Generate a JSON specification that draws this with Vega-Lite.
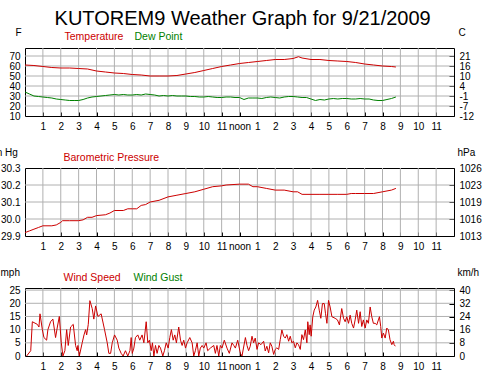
{
  "$schema": "https://vega.github.io/schema/vega-lite/v6.json",
  "autosize": {"type": "none"},
  "padding": {"left": 25, "top": 48, "right": 459, "bottom": 331},
  "bounds": "flush",
  "spacing": 52,
  "title": {"text": "KUTOREM9 Weather Graph for 9/21/2009", "font": "Liberation Sans", "fontSize": 20, "fontWeight": "normal", "color": "black", "anchor": "middle", "dx": 5, "dy": 6},
  "config": {
    "font": "Liberation Sans",
    "view": {"stroke": "black", "strokeWidth": 1},
    "axis": {"labelFont": "Liberation Sans", "labelFontSize": 10, "labelColor": "black", "labelOverlap": false, "grid": false, "domain": false, "tickColor": "black", "titleFont": "Liberation Sans", "titleFontSize": 10, "titleFontWeight": "normal", "titleColor": "black"},
    "legend": {"labelFont": "Liberation Sans", "labelFontSize": 10.5, "padding": 0, "offset": 0}
  },
  "resolve": {"scale": {"color": "independent", "x": "independent", "y": "independent"}, "legend": {"color": "independent"}},
  "datasets": {
    "hours": [{"g": 1}, {"g": 2}, {"g": 3}, {"g": 4}, {"g": 5}, {"g": 6}, {"g": 7}, {"g": 8}, {"g": 9}, {"g": 10}, {"g": 11}, {"g": 12}, {"g": 13}, {"g": 14}, {"g": 15}, {"g": 16}, {"g": 17}, {"g": 18}, {"g": 19}, {"g": 20}, {"g": 21}, {"g": 22}, {"g": 23}],
    "tgrid": [{"g": 20}, {"g": 30}, {"g": 40}, {"g": 50}, {"g": 60}, {"g": 70}],
    "pgrid": [{"g": 30.0}, {"g": 30.1}, {"g": 30.2}],
    "wgrid": [{"g": 5}, {"g": 10}, {"g": 15}, {"g": 20}, {"g": 25}],
    "tp": [
      {"h": 0, "s": "Temperature", "v": 61}, {"h": 0.5, "s": "Temperature", "v": 60.5}, {"h": 1, "s": "Temperature", "v": 59.5}, {"h": 1.5, "s": "Temperature", "v": 58.5}, {"h": 2, "s": "Temperature", "v": 58}, {"h": 2.5, "s": "Temperature", "v": 58}, {"h": 3, "s": "Temperature", "v": 57.5}, {"h": 3.5, "s": "Temperature", "v": 57}, {"h": 4, "s": "Temperature", "v": 55}, {"h": 4.5, "s": "Temperature", "v": 54}, {"h": 5, "s": "Temperature", "v": 53}, {"h": 5.5, "s": "Temperature", "v": 52.5}, {"h": 6, "s": "Temperature", "v": 51.5}, {"h": 6.5, "s": "Temperature", "v": 51}, {"h": 7, "s": "Temperature", "v": 50}, {"h": 7.5, "s": "Temperature", "v": 50}, {"h": 8, "s": "Temperature", "v": 50}, {"h": 8.5, "s": "Temperature", "v": 50.5}, {"h": 9, "s": "Temperature", "v": 52}, {"h": 9.5, "s": "Temperature", "v": 53.5}, {"h": 10, "s": "Temperature", "v": 55.5}, {"h": 10.5, "s": "Temperature", "v": 57.5}, {"h": 11, "s": "Temperature", "v": 59.5}, {"h": 11.5, "s": "Temperature", "v": 61}, {"h": 12, "s": "Temperature", "v": 62.5}, {"h": 12.5, "s": "Temperature", "v": 63.5}, {"h": 13, "s": "Temperature", "v": 64.5}, {"h": 13.5, "s": "Temperature", "v": 65.5}, {"h": 14, "s": "Temperature", "v": 66.5}, {"h": 14.5, "s": "Temperature", "v": 66.5}, {"h": 15, "s": "Temperature", "v": 67.5}, {"h": 15.3, "s": "Temperature", "v": 69.3}, {"h": 15.5, "s": "Temperature", "v": 68}, {"h": 16, "s": "Temperature", "v": 66.5}, {"h": 16.5, "s": "Temperature", "v": 66.5}, {"h": 17, "s": "Temperature", "v": 65.5}, {"h": 17.5, "s": "Temperature", "v": 65}, {"h": 18, "s": "Temperature", "v": 64.5}, {"h": 18.5, "s": "Temperature", "v": 63.5}, {"h": 19, "s": "Temperature", "v": 62}, {"h": 19.5, "s": "Temperature", "v": 61}, {"h": 20, "s": "Temperature", "v": 60}, {"h": 20.5, "s": "Temperature", "v": 59.5}, {"h": 20.75, "s": "Temperature", "v": 59},
      {"h": 0, "s": "Dew Point", "v": 34}, {"h": 0.25, "s": "Dew Point", "v": 32}, {"h": 0.5, "s": "Dew Point", "v": 30}, {"h": 0.75, "s": "Dew Point", "v": 29.5}, {"h": 1, "s": "Dew Point", "v": 29}, {"h": 1.25, "s": "Dew Point", "v": 28.5}, {"h": 1.5, "s": "Dew Point", "v": 28}, {"h": 1.75, "s": "Dew Point", "v": 27}, {"h": 2, "s": "Dew Point", "v": 26.5}, {"h": 2.25, "s": "Dew Point", "v": 26}, {"h": 2.5, "s": "Dew Point", "v": 25.5}, {"h": 2.75, "s": "Dew Point", "v": 25.5}, {"h": 3, "s": "Dew Point", "v": 25.5}, {"h": 3.25, "s": "Dew Point", "v": 26.5}, {"h": 3.5, "s": "Dew Point", "v": 28}, {"h": 3.75, "s": "Dew Point", "v": 29}, {"h": 4, "s": "Dew Point", "v": 29.5}, {"h": 4.25, "s": "Dew Point", "v": 30}, {"h": 4.5, "s": "Dew Point", "v": 30.5}, {"h": 4.75, "s": "Dew Point", "v": 31}, {"h": 5, "s": "Dew Point", "v": 31.5}, {"h": 5.25, "s": "Dew Point", "v": 31}, {"h": 5.5, "s": "Dew Point", "v": 31.5}, {"h": 5.75, "s": "Dew Point", "v": 31}, {"h": 6, "s": "Dew Point", "v": 31}, {"h": 6.25, "s": "Dew Point", "v": 31.5}, {"h": 6.5, "s": "Dew Point", "v": 31}, {"h": 6.75, "s": "Dew Point", "v": 32}, {"h": 7, "s": "Dew Point", "v": 31.5}, {"h": 7.25, "s": "Dew Point", "v": 31}, {"h": 7.5, "s": "Dew Point", "v": 30}, {"h": 7.75, "s": "Dew Point", "v": 30.5}, {"h": 8, "s": "Dew Point", "v": 30}, {"h": 8.25, "s": "Dew Point", "v": 30.5}, {"h": 8.5, "s": "Dew Point", "v": 30}, {"h": 8.75, "s": "Dew Point", "v": 30}, {"h": 9, "s": "Dew Point", "v": 30}, {"h": 9.25, "s": "Dew Point", "v": 29.5}, {"h": 9.5, "s": "Dew Point", "v": 29.5}, {"h": 9.75, "s": "Dew Point", "v": 29}, {"h": 10, "s": "Dew Point", "v": 29}, {"h": 10.25, "s": "Dew Point", "v": 29.5}, {"h": 10.5, "s": "Dew Point", "v": 29}, {"h": 10.75, "s": "Dew Point", "v": 28.5}, {"h": 11, "s": "Dew Point", "v": 28.5}, {"h": 11.25, "s": "Dew Point", "v": 29}, {"h": 11.5, "s": "Dew Point", "v": 29}, {"h": 11.75, "s": "Dew Point", "v": 28.5}, {"h": 12, "s": "Dew Point", "v": 28.5}, {"h": 12.25, "s": "Dew Point", "v": 26.5}, {"h": 12.5, "s": "Dew Point", "v": 28}, {"h": 12.75, "s": "Dew Point", "v": 28}, {"h": 13, "s": "Dew Point", "v": 28}, {"h": 13.25, "s": "Dew Point", "v": 27.5}, {"h": 13.5, "s": "Dew Point", "v": 28.5}, {"h": 13.75, "s": "Dew Point", "v": 29}, {"h": 14, "s": "Dew Point", "v": 28.5}, {"h": 14.25, "s": "Dew Point", "v": 28}, {"h": 14.5, "s": "Dew Point", "v": 29}, {"h": 14.75, "s": "Dew Point", "v": 29.5}, {"h": 15, "s": "Dew Point", "v": 29.5}, {"h": 15.25, "s": "Dew Point", "v": 29}, {"h": 15.5, "s": "Dew Point", "v": 28.5}, {"h": 15.75, "s": "Dew Point", "v": 28.5}, {"h": 16, "s": "Dew Point", "v": 27}, {"h": 16.25, "s": "Dew Point", "v": 25.5}, {"h": 16.5, "s": "Dew Point", "v": 26.5}, {"h": 16.75, "s": "Dew Point", "v": 26}, {"h": 17, "s": "Dew Point", "v": 27}, {"h": 17.25, "s": "Dew Point", "v": 27.5}, {"h": 17.5, "s": "Dew Point", "v": 27}, {"h": 17.75, "s": "Dew Point", "v": 27.5}, {"h": 18, "s": "Dew Point", "v": 27.5}, {"h": 18.25, "s": "Dew Point", "v": 27}, {"h": 18.5, "s": "Dew Point", "v": 27}, {"h": 18.75, "s": "Dew Point", "v": 27.5}, {"h": 19, "s": "Dew Point", "v": 27}, {"h": 19.25, "s": "Dew Point", "v": 27}, {"h": 19.5, "s": "Dew Point", "v": 26}, {"h": 19.75, "s": "Dew Point", "v": 25.5}, {"h": 20, "s": "Dew Point", "v": 25.5}, {"h": 20.25, "s": "Dew Point", "v": 26.5}, {"h": 20.5, "s": "Dew Point", "v": 27.5}, {"h": 20.75, "s": "Dew Point", "v": 29}
    ],
    "pr": [
      {"h": 0, "s": "Barometric Pressure", "v": 29.92}, {"h": 0.25, "s": "Barometric Pressure", "v": 29.93}, {"h": 0.5, "s": "Barometric Pressure", "v": 29.94}, {"h": 0.75, "s": "Barometric Pressure", "v": 29.95}, {"h": 1, "s": "Barometric Pressure", "v": 29.96}, {"h": 1.5, "s": "Barometric Pressure", "v": 29.96}, {"h": 1.75, "s": "Barometric Pressure", "v": 29.965}, {"h": 2, "s": "Barometric Pressure", "v": 29.98}, {"h": 2.1, "s": "Barometric Pressure", "v": 29.99}, {"h": 2.5, "s": "Barometric Pressure", "v": 29.99}, {"h": 3, "s": "Barometric Pressure", "v": 29.99}, {"h": 3.25, "s": "Barometric Pressure", "v": 29.995}, {"h": 3.5, "s": "Barometric Pressure", "v": 30.01}, {"h": 3.75, "s": "Barometric Pressure", "v": 30.01}, {"h": 4, "s": "Barometric Pressure", "v": 30.02}, {"h": 4.5, "s": "Barometric Pressure", "v": 30.025}, {"h": 4.75, "s": "Barometric Pressure", "v": 30.035}, {"h": 5, "s": "Barometric Pressure", "v": 30.05}, {"h": 5.5, "s": "Barometric Pressure", "v": 30.05}, {"h": 5.75, "s": "Barometric Pressure", "v": 30.06}, {"h": 6, "s": "Barometric Pressure", "v": 30.06}, {"h": 6.25, "s": "Barometric Pressure", "v": 30.06}, {"h": 6.5, "s": "Barometric Pressure", "v": 30.08}, {"h": 6.75, "s": "Barometric Pressure", "v": 30.085}, {"h": 7, "s": "Barometric Pressure", "v": 30.1}, {"h": 7.5, "s": "Barometric Pressure", "v": 30.11}, {"h": 8, "s": "Barometric Pressure", "v": 30.13}, {"h": 8.5, "s": "Barometric Pressure", "v": 30.14}, {"h": 9, "s": "Barometric Pressure", "v": 30.15}, {"h": 9.5, "s": "Barometric Pressure", "v": 30.16}, {"h": 10, "s": "Barometric Pressure", "v": 30.175}, {"h": 10.5, "s": "Barometric Pressure", "v": 30.19}, {"h": 11, "s": "Barometric Pressure", "v": 30.195}, {"h": 11.25, "s": "Barometric Pressure", "v": 30.2}, {"h": 12, "s": "Barometric Pressure", "v": 30.205}, {"h": 12.5, "s": "Barometric Pressure", "v": 30.205}, {"h": 12.75, "s": "Barometric Pressure", "v": 30.19}, {"h": 13, "s": "Barometric Pressure", "v": 30.19}, {"h": 13.5, "s": "Barometric Pressure", "v": 30.18}, {"h": 14, "s": "Barometric Pressure", "v": 30.17}, {"h": 14.5, "s": "Barometric Pressure", "v": 30.17}, {"h": 15, "s": "Barometric Pressure", "v": 30.16}, {"h": 15.25, "s": "Barometric Pressure", "v": 30.16}, {"h": 15.5, "s": "Barometric Pressure", "v": 30.145}, {"h": 16, "s": "Barometric Pressure", "v": 30.145}, {"h": 16.5, "s": "Barometric Pressure", "v": 30.145}, {"h": 17, "s": "Barometric Pressure", "v": 30.145}, {"h": 17.5, "s": "Barometric Pressure", "v": 30.145}, {"h": 18, "s": "Barometric Pressure", "v": 30.145}, {"h": 18.25, "s": "Barometric Pressure", "v": 30.15}, {"h": 18.5, "s": "Barometric Pressure", "v": 30.15}, {"h": 19, "s": "Barometric Pressure", "v": 30.15}, {"h": 19.5, "s": "Barometric Pressure", "v": 30.15}, {"h": 19.75, "s": "Barometric Pressure", "v": 30.155}, {"h": 20, "s": "Barometric Pressure", "v": 30.16}, {"h": 20.25, "s": "Barometric Pressure", "v": 30.165}, {"h": 20.5, "s": "Barometric Pressure", "v": 30.17}, {"h": 20.75, "s": "Barometric Pressure", "v": 30.18}
    ],
    "wd": [
      {"h": 0.09, "s": "Wind Speed", "v": 0}, {"h": 0.32, "s": "Wind Speed", "v": 2}, {"h": 0.41, "s": "Wind Speed", "v": 13}, {"h": 0.69, "s": "Wind Speed", "v": 12}, {"h": 0.78, "s": "Wind Speed", "v": 11}, {"h": 0.84, "s": "Wind Speed", "v": 16}, {"h": 0.97, "s": "Wind Speed", "v": 10}, {"h": 1.06, "s": "Wind Speed", "v": 7}, {"h": 1.21, "s": "Wind Speed", "v": 6}, {"h": 1.28, "s": "Wind Speed", "v": 10}, {"h": 1.43, "s": "Wind Speed", "v": 13}, {"h": 1.56, "s": "Wind Speed", "v": 14}, {"h": 1.71, "s": "Wind Speed", "v": 7}, {"h": 1.81, "s": "Wind Speed", "v": 11}, {"h": 1.92, "s": "Wind Speed", "v": 15}, {"h": 2.03, "s": "Wind Speed", "v": 5}, {"h": 2.12, "s": "Wind Speed", "v": 0}, {"h": 2.23, "s": "Wind Speed", "v": 2}, {"h": 2.33, "s": "Wind Speed", "v": 10}, {"h": 2.42, "s": "Wind Speed", "v": 4}, {"h": 2.55, "s": "Wind Speed", "v": 11}, {"h": 2.7, "s": "Wind Speed", "v": 12}, {"h": 2.83, "s": "Wind Speed", "v": 4}, {"h": 2.92, "s": "Wind Speed", "v": 2}, {"h": 2.96, "s": "Wind Speed", "v": 4}, {"h": 3.04, "s": "Wind Speed", "v": 0}, {"h": 3.2, "s": "Wind Speed", "v": 5}, {"h": 3.3, "s": "Wind Speed", "v": 8}, {"h": 3.39, "s": "Wind Speed", "v": 10}, {"h": 3.45, "s": "Wind Speed", "v": 8}, {"h": 3.54, "s": "Wind Speed", "v": 12}, {"h": 3.63, "s": "Wind Speed", "v": 21}, {"h": 3.76, "s": "Wind Speed", "v": 18}, {"h": 3.85, "s": "Wind Speed", "v": 14}, {"h": 3.95, "s": "Wind Speed", "v": 19}, {"h": 4.08, "s": "Wind Speed", "v": 15}, {"h": 4.26, "s": "Wind Speed", "v": 16}, {"h": 4.45, "s": "Wind Speed", "v": 10}, {"h": 4.6, "s": "Wind Speed", "v": 5}, {"h": 4.69, "s": "Wind Speed", "v": 1}, {"h": 4.79, "s": "Wind Speed", "v": 1}, {"h": 4.88, "s": "Wind Speed", "v": 5}, {"h": 5.01, "s": "Wind Speed", "v": 8}, {"h": 5.16, "s": "Wind Speed", "v": 6}, {"h": 5.25, "s": "Wind Speed", "v": 3}, {"h": 5.38, "s": "Wind Speed", "v": 1}, {"h": 5.49, "s": "Wind Speed", "v": 0}, {"h": 5.62, "s": "Wind Speed", "v": 2}, {"h": 5.75, "s": "Wind Speed", "v": 0}, {"h": 5.87, "s": "Wind Speed", "v": 2}, {"h": 5.94, "s": "Wind Speed", "v": 7}, {"h": 6.0, "s": "Wind Speed", "v": 1}, {"h": 6.09, "s": "Wind Speed", "v": 3}, {"h": 6.18, "s": "Wind Speed", "v": 7}, {"h": 6.31, "s": "Wind Speed", "v": 8}, {"h": 6.42, "s": "Wind Speed", "v": 6}, {"h": 6.55, "s": "Wind Speed", "v": 8}, {"h": 6.65, "s": "Wind Speed", "v": 5}, {"h": 6.78, "s": "Wind Speed", "v": 13}, {"h": 6.87, "s": "Wind Speed", "v": 5}, {"h": 6.96, "s": "Wind Speed", "v": 6}, {"h": 7.06, "s": "Wind Speed", "v": 2}, {"h": 7.13, "s": "Wind Speed", "v": 5}, {"h": 7.21, "s": "Wind Speed", "v": 0}, {"h": 7.3, "s": "Wind Speed", "v": 4}, {"h": 7.39, "s": "Wind Speed", "v": 1}, {"h": 7.49, "s": "Wind Speed", "v": 4}, {"h": 7.58, "s": "Wind Speed", "v": 3}, {"h": 7.71, "s": "Wind Speed", "v": 0}, {"h": 7.8, "s": "Wind Speed", "v": 2}, {"h": 7.9, "s": "Wind Speed", "v": 5}, {"h": 8.01, "s": "Wind Speed", "v": 3}, {"h": 8.1, "s": "Wind Speed", "v": 7}, {"h": 8.19, "s": "Wind Speed", "v": 10}, {"h": 8.29, "s": "Wind Speed", "v": 6}, {"h": 8.38, "s": "Wind Speed", "v": 8}, {"h": 8.47, "s": "Wind Speed", "v": 5}, {"h": 8.6, "s": "Wind Speed", "v": 11}, {"h": 8.7, "s": "Wind Speed", "v": 6}, {"h": 8.79, "s": "Wind Speed", "v": 4}, {"h": 8.88, "s": "Wind Speed", "v": 6}, {"h": 8.98, "s": "Wind Speed", "v": 3}, {"h": 9.07, "s": "Wind Speed", "v": 5}, {"h": 9.22, "s": "Wind Speed", "v": 7}, {"h": 9.35, "s": "Wind Speed", "v": 5}, {"h": 9.44, "s": "Wind Speed", "v": 0}, {"h": 9.53, "s": "Wind Speed", "v": 2}, {"h": 9.63, "s": "Wind Speed", "v": 5}, {"h": 9.72, "s": "Wind Speed", "v": 0}, {"h": 9.81, "s": "Wind Speed", "v": 3}, {"h": 9.91, "s": "Wind Speed", "v": 4}, {"h": 10.0, "s": "Wind Speed", "v": 3}, {"h": 10.13, "s": "Wind Speed", "v": 5}, {"h": 10.22, "s": "Wind Speed", "v": 2}, {"h": 10.37, "s": "Wind Speed", "v": 3}, {"h": 10.56, "s": "Wind Speed", "v": 4}, {"h": 10.65, "s": "Wind Speed", "v": 1}, {"h": 10.74, "s": "Wind Speed", "v": 4}, {"h": 10.84, "s": "Wind Speed", "v": 0}, {"h": 10.93, "s": "Wind Speed", "v": 4}, {"h": 11.02, "s": "Wind Speed", "v": 3}, {"h": 11.15, "s": "Wind Speed", "v": 6}, {"h": 11.3, "s": "Wind Speed", "v": 3}, {"h": 11.43, "s": "Wind Speed", "v": 1}, {"h": 11.58, "s": "Wind Speed", "v": 5}, {"h": 11.68, "s": "Wind Speed", "v": 4}, {"h": 11.77, "s": "Wind Speed", "v": 3}, {"h": 11.9, "s": "Wind Speed", "v": 6}, {"h": 12.05, "s": "Wind Speed", "v": 1}, {"h": 12.14, "s": "Wind Speed", "v": 0}, {"h": 12.33, "s": "Wind Speed", "v": 7}, {"h": 12.42, "s": "Wind Speed", "v": 4}, {"h": 12.51, "s": "Wind Speed", "v": 2}, {"h": 12.6, "s": "Wind Speed", "v": 3.7}, {"h": 12.7, "s": "Wind Speed", "v": 7.5}, {"h": 12.79, "s": "Wind Speed", "v": 5}, {"h": 12.88, "s": "Wind Speed", "v": 6.8}, {"h": 12.98, "s": "Wind Speed", "v": 2.5}, {"h": 13.07, "s": "Wind Speed", "v": 5}, {"h": 13.2, "s": "Wind Speed", "v": 4.3}, {"h": 13.35, "s": "Wind Speed", "v": 5.6}, {"h": 13.44, "s": "Wind Speed", "v": 1.9}, {"h": 13.53, "s": "Wind Speed", "v": 3.7}, {"h": 13.63, "s": "Wind Speed", "v": 1.2}, {"h": 13.72, "s": "Wind Speed", "v": 5}, {"h": 13.81, "s": "Wind Speed", "v": 3.7}, {"h": 13.91, "s": "Wind Speed", "v": 0.6}, {"h": 14.0, "s": "Wind Speed", "v": 2.5}, {"h": 14.09, "s": "Wind Speed", "v": 3.1}, {"h": 14.19, "s": "Wind Speed", "v": 2.5}, {"h": 14.28, "s": "Wind Speed", "v": 6.2}, {"h": 14.37, "s": "Wind Speed", "v": 9.9}, {"h": 14.47, "s": "Wind Speed", "v": 7.5}, {"h": 14.56, "s": "Wind Speed", "v": 6.8}, {"h": 14.65, "s": "Wind Speed", "v": 8.1}, {"h": 14.75, "s": "Wind Speed", "v": 5.6}, {"h": 14.84, "s": "Wind Speed", "v": 7.5}, {"h": 14.93, "s": "Wind Speed", "v": 5}, {"h": 15.02, "s": "Wind Speed", "v": 5.6}, {"h": 15.12, "s": "Wind Speed", "v": 3.1}, {"h": 15.21, "s": "Wind Speed", "v": 5}, {"h": 15.3, "s": "Wind Speed", "v": 4.3}, {"h": 15.4, "s": "Wind Speed", "v": 2.5}, {"h": 15.49, "s": "Wind Speed", "v": 8.1}, {"h": 15.58, "s": "Wind Speed", "v": 6.2}, {"h": 15.68, "s": "Wind Speed", "v": 9.9}, {"h": 15.77, "s": "Wind Speed", "v": 5}, {"h": 15.82, "s": "Wind Speed", "v": 13}, {"h": 15.9, "s": "Wind Speed", "v": 8.1}, {"h": 15.95, "s": "Wind Speed", "v": 11.8}, {"h": 16.01, "s": "Wind Speed", "v": 7.5}, {"h": 16.1, "s": "Wind Speed", "v": 14.9}, {"h": 16.18, "s": "Wind Speed", "v": 17.4}, {"h": 16.27, "s": "Wind Speed", "v": 18.6}, {"h": 16.37, "s": "Wind Speed", "v": 21.1}, {"h": 16.46, "s": "Wind Speed", "v": 17.4}, {"h": 16.55, "s": "Wind Speed", "v": 14.3}, {"h": 16.64, "s": "Wind Speed", "v": 19.9}, {"h": 16.74, "s": "Wind Speed", "v": 19.9}, {"h": 16.81, "s": "Wind Speed", "v": 16.2}, {"h": 16.89, "s": "Wind Speed", "v": 12.4}, {"h": 16.98, "s": "Wind Speed", "v": 21.1}, {"h": 17.07, "s": "Wind Speed", "v": 18.6}, {"h": 17.17, "s": "Wind Speed", "v": 14.9}, {"h": 17.35, "s": "Wind Speed", "v": 14.3}, {"h": 17.48, "s": "Wind Speed", "v": 13.7}, {"h": 17.59, "s": "Wind Speed", "v": 11.8}, {"h": 17.72, "s": "Wind Speed", "v": 18}, {"h": 17.82, "s": "Wind Speed", "v": 14.3}, {"h": 17.91, "s": "Wind Speed", "v": 13}, {"h": 18.0, "s": "Wind Speed", "v": 14.9}, {"h": 18.1, "s": "Wind Speed", "v": 12.4}, {"h": 18.19, "s": "Wind Speed", "v": 15.5}, {"h": 18.28, "s": "Wind Speed", "v": 12.4}, {"h": 18.38, "s": "Wind Speed", "v": 10.6}, {"h": 18.47, "s": "Wind Speed", "v": 13.7}, {"h": 18.56, "s": "Wind Speed", "v": 17.4}, {"h": 18.66, "s": "Wind Speed", "v": 12.4}, {"h": 18.75, "s": "Wind Speed", "v": 16.8}, {"h": 18.84, "s": "Wind Speed", "v": 11.2}, {"h": 18.93, "s": "Wind Speed", "v": 13.7}, {"h": 19.03, "s": "Wind Speed", "v": 10.6}, {"h": 19.12, "s": "Wind Speed", "v": 13.7}, {"h": 19.21, "s": "Wind Speed", "v": 12.4}, {"h": 19.31, "s": "Wind Speed", "v": 18.6}, {"h": 19.4, "s": "Wind Speed", "v": 14.9}, {"h": 19.49, "s": "Wind Speed", "v": 12.4}, {"h": 19.59, "s": "Wind Speed", "v": 12.4}, {"h": 19.68, "s": "Wind Speed", "v": 11.8}, {"h": 19.77, "s": "Wind Speed", "v": 13.7}, {"h": 19.83, "s": "Wind Speed", "v": 14.9}, {"h": 19.9, "s": "Wind Speed", "v": 11.2}, {"h": 19.96, "s": "Wind Speed", "v": 6.8}, {"h": 20.05, "s": "Wind Speed", "v": 8.7}, {"h": 20.15, "s": "Wind Speed", "v": 6.8}, {"h": 20.24, "s": "Wind Speed", "v": 10.6}, {"h": 20.33, "s": "Wind Speed", "v": 9.9}, {"h": 20.42, "s": "Wind Speed", "v": 6.2}, {"h": 20.52, "s": "Wind Speed", "v": 4.3}, {"h": 20.61, "s": "Wind Speed", "v": 5.6}, {"h": 20.65, "s": "Wind Speed", "v": 4.3}, {"h": 20.72, "s": "Wind Speed", "v": 3.7}
    ]
  },
  "vconcat": [
    {
      "width": 429, "height": 68,
      "resolve": {"axis": {"y": "independent"}},
      "layer": [
        {
          "data": {"name": "hours"},
          "mark": {"type": "rule", "stroke": "#b0b0b0", "strokeWidth": 1},
          "encoding": {
            "x": {"field": "g", "type": "quantitative", "scale": {"domain": [0, 24], "nice": false, "zero": false}, "axis": {"values": [1,2,3,4,5,6,7,8,9,10,11,12,13,14,15,16,17,18,19,20,21,22,23], "labelExpr": "datum.value == 12 ? 'noon' : '' + (datum.value > 12 ? datum.value - 12 : datum.value)", "title": null, "grid": false, "tickSize": -4, "labelPadding": 9, "labelFlush": false, "labelOverlap": false, "labelBound": false}},
            "y": {"datum": 10, "type": "quantitative", "scale": {"domain": [10, 78], "nice": false, "zero": false}, "axis": null},
            "y2": {"datum": 78}
          }
        },
        {
          "data": {"name": "tgrid"},
          "mark": {"type": "rule", "stroke": "#b0b0b0", "strokeWidth": 1},
          "encoding": {
            "x": {"datum": 0, "type": "quantitative", "axis": {"values": [1,2,3,4,5,6,7,8,9,10,11,12,13,14,15,16,17,18,19,20,21,22,23], "labelExpr": "datum.value == 12 ? 'noon' : '' + (datum.value > 12 ? datum.value - 12 : datum.value)", "title": null, "grid": false, "tickSize": -4, "labelPadding": 9, "labelFlush": false, "labelOverlap": false, "labelBound": false}},
            "x2": {"datum": 24},
            "y": {"field": "g", "type": "quantitative", "scale": {"domain": [10, 78], "nice": false, "zero": false}, "axis": null}
          }
        },
        {
          "data": {"name": "tp"},
          "mark": {"type": "line", "strokeWidth": 1, "clip": true},
          "encoding": {
            "x": {"field": "h", "type": "quantitative", "scale": {"domain": [0, 24], "nice": false, "zero": false}, "axis": {"values": [1,2,3,4,5,6,7,8,9,10,11,12,13,14,15,16,17,18,19,20,21,22,23], "labelExpr": "datum.value == 12 ? 'noon' : '' + (datum.value > 12 ? datum.value - 12 : datum.value)", "title": null, "grid": false, "tickSize": -4, "labelPadding": 9, "labelFlush": false, "labelOverlap": false, "labelBound": false}},
            "y": {"field": "v", "type": "quantitative", "scale": {"domain": [10, 78], "nice": false, "zero": false}, "axis": {"values": [10,20,30,40,50,60,70], "grid": false, "ticks": false, "labelPadding": 5, "labelOverlap": false, "title": "F", "titleAngle": 0, "titleAlign": "left", "titleBaseline": "middle", "titleX": -10, "titleY": -16}},
            "color": {"field": "s", "type": "nominal", "scale": {"domain": ["Temperature", "Dew Point"], "range": ["#cc0000", "#008000"]}, "legend": {"orient": "none", "legendX": 29, "legendY": -16, "direction": "horizontal", "title": null, "symbolSize": 0, "symbolStrokeWidth": 0, "symbolOpacity": 0, "labelOffset": 0, "columnPadding": 0, "labelColor": {"expr": "datum.value == 'Dew Point' ? '#008000' : '#cc0000'"}}}
          }
        },
        {
          "data": {"name": "tp"},
          "mark": {"type": "line", "opacity": 0},
          "encoding": {
            "x": {"field": "h", "type": "quantitative", "axis": {"values": [1,2,3,4,5,6,7,8,9,10,11,12,13,14,15,16,17,18,19,20,21,22,23], "labelExpr": "datum.value == 12 ? 'noon' : '' + (datum.value > 12 ? datum.value - 12 : datum.value)", "title": null, "grid": false, "tickSize": -4, "labelPadding": 9, "labelFlush": false, "labelOverlap": false, "labelBound": false}},
            "y": {"field": "v", "type": "quantitative", "axis": {"orient": "right", "values": [10,20,30,40,50,60,70], "labelExpr": "'' + round((datum.value - 32) * 5 / 9)", "grid": false, "tickSize": -5, "labelPadding": 10, "labelOverlap": false, "title": "C", "titleAngle": 0, "titleAlign": "left", "titleBaseline": "middle", "titleX": 4, "titleY": -16}},
            "detail": {"field": "s"}
          }
        }
      ]
    },
    {
      "width": 429, "height": 68,
      "resolve": {"axis": {"y": "independent"}},
      "layer": [
        {
          "data": {"name": "hours"},
          "mark": {"type": "rule", "stroke": "#b0b0b0", "strokeWidth": 1},
          "encoding": {
            "x": {"field": "g", "type": "quantitative", "scale": {"domain": [0, 24], "nice": false, "zero": false}, "axis": {"values": [1,2,3,4,5,6,7,8,9,10,11,12,13,14,15,16,17,18,19,20,21,22,23], "labelExpr": "datum.value == 12 ? 'noon' : '' + (datum.value > 12 ? datum.value - 12 : datum.value)", "title": null, "grid": false, "tickSize": -4, "labelPadding": 9, "labelFlush": false, "labelOverlap": false, "labelBound": false}},
            "y": {"datum": 29.9, "type": "quantitative", "scale": {"domain": [29.9, 30.3], "nice": false, "zero": false}, "axis": null},
            "y2": {"datum": 30.3}
          }
        },
        {
          "data": {"name": "pgrid"},
          "mark": {"type": "rule", "stroke": "#b0b0b0", "strokeWidth": 1},
          "encoding": {
            "x": {"datum": 0, "type": "quantitative", "axis": {"values": [1,2,3,4,5,6,7,8,9,10,11,12,13,14,15,16,17,18,19,20,21,22,23], "labelExpr": "datum.value == 12 ? 'noon' : '' + (datum.value > 12 ? datum.value - 12 : datum.value)", "title": null, "grid": false, "tickSize": -4, "labelPadding": 9, "labelFlush": false, "labelOverlap": false, "labelBound": false}},
            "x2": {"datum": 24},
            "y": {"field": "g", "type": "quantitative", "scale": {"domain": [29.9, 30.3], "nice": false, "zero": false}, "axis": null}
          }
        },
        {
          "data": {"name": "pr"},
          "mark": {"type": "line", "strokeWidth": 1, "clip": true},
          "encoding": {
            "x": {"field": "h", "type": "quantitative", "scale": {"domain": [0, 24], "nice": false, "zero": false}, "axis": {"values": [1,2,3,4,5,6,7,8,9,10,11,12,13,14,15,16,17,18,19,20,21,22,23], "labelExpr": "datum.value == 12 ? 'noon' : '' + (datum.value > 12 ? datum.value - 12 : datum.value)", "title": null, "grid": false, "tickSize": -4, "labelPadding": 9, "labelFlush": false, "labelOverlap": false, "labelBound": false}},
            "y": {"field": "v", "type": "quantitative", "scale": {"domain": [29.9, 30.3], "nice": false, "zero": false}, "axis": {"values": [29.9, 30.0, 30.1, 30.2, 30.3], "format": ".1f", "grid": false, "ticks": false, "labelPadding": 5, "labelOverlap": false, "title": "in Hg", "titleAngle": 0, "titleAlign": "left", "titleBaseline": "middle", "titleX": -31, "titleY": -16}},
            "color": {"field": "s", "type": "nominal", "scale": {"domain": ["Barometric Pressure"], "range": ["#cc0000"]}, "legend": {"orient": "none", "legendX": 28, "legendY": -15, "direction": "horizontal", "title": null, "symbolSize": 0, "symbolStrokeWidth": 0, "symbolOpacity": 0, "labelOffset": 0, "labelColor": "#cc0000"}}
          }
        },
        {
          "data": {"name": "pr"},
          "mark": {"type": "line", "opacity": 0},
          "encoding": {
            "x": {"field": "h", "type": "quantitative", "axis": {"values": [1,2,3,4,5,6,7,8,9,10,11,12,13,14,15,16,17,18,19,20,21,22,23], "labelExpr": "datum.value == 12 ? 'noon' : '' + (datum.value > 12 ? datum.value - 12 : datum.value)", "title": null, "grid": false, "tickSize": -4, "labelPadding": 9, "labelFlush": false, "labelOverlap": false, "labelBound": false}},
            "y": {"field": "v", "type": "quantitative", "axis": {"orient": "right", "values": [29.9, 30.0, 30.1, 30.2, 30.3], "labelExpr": "'' + round(datum.value * 33.8639)", "grid": false, "tickSize": -5, "labelPadding": 10, "labelOverlap": false, "title": "hPa", "titleAngle": 0, "titleAlign": "left", "titleBaseline": "middle", "titleX": 3, "titleY": -16}}
          }
        }
      ]
    },
    {
      "width": 429, "height": 68,
      "resolve": {"axis": {"y": "independent"}},
      "layer": [
        {
          "data": {"name": "hours"},
          "mark": {"type": "rule", "stroke": "#b0b0b0", "strokeWidth": 1},
          "encoding": {
            "x": {"field": "g", "type": "quantitative", "scale": {"domain": [0, 24], "nice": false, "zero": false}, "axis": {"values": [1,2,3,4,5,6,7,8,9,10,11,12,13,14,15,16,17,18,19,20,21,22,23], "labelExpr": "datum.value == 12 ? 'noon' : '' + (datum.value > 12 ? datum.value - 12 : datum.value)", "title": null, "grid": false, "tickSize": -4, "labelPadding": 9, "labelFlush": false, "labelOverlap": false, "labelBound": false}},
            "y": {"datum": 0, "type": "quantitative", "scale": {"domain": [0, 25.8], "nice": false, "zero": false}, "axis": null},
            "y2": {"datum": 25.8}
          }
        },
        {
          "data": {"name": "wgrid"},
          "mark": {"type": "rule", "stroke": "#b0b0b0", "strokeWidth": 1},
          "encoding": {
            "x": {"datum": 0, "type": "quantitative", "axis": {"values": [1,2,3,4,5,6,7,8,9,10,11,12,13,14,15,16,17,18,19,20,21,22,23], "labelExpr": "datum.value == 12 ? 'noon' : '' + (datum.value > 12 ? datum.value - 12 : datum.value)", "title": null, "grid": false, "tickSize": -4, "labelPadding": 9, "labelFlush": false, "labelOverlap": false, "labelBound": false}},
            "x2": {"datum": 24},
            "y": {"field": "g", "type": "quantitative", "scale": {"domain": [0, 25.8], "nice": false, "zero": false}, "axis": null}
          }
        },
        {
          "data": {"name": "wd"},
          "mark": {"type": "line", "strokeWidth": 1, "clip": true},
          "encoding": {
            "x": {"field": "h", "type": "quantitative", "scale": {"domain": [0, 24], "nice": false, "zero": false}, "axis": {"values": [1,2,3,4,5,6,7,8,9,10,11,12,13,14,15,16,17,18,19,20,21,22,23], "labelExpr": "datum.value == 12 ? 'noon' : '' + (datum.value > 12 ? datum.value - 12 : datum.value)", "title": null, "grid": false, "tickSize": -4, "labelPadding": 9, "labelFlush": false, "labelOverlap": false, "labelBound": false}},
            "y": {"field": "v", "type": "quantitative", "scale": {"domain": [0, 25.8], "nice": false, "zero": false}, "axis": {"values": [0, 5, 10, 15, 20, 25], "grid": false, "ticks": false, "labelPadding": 5, "labelOverlap": false, "title": "mph", "titleAngle": 0, "titleAlign": "left", "titleBaseline": "middle", "titleX": -25, "titleY": -16}},
            "color": {"field": "s", "type": "nominal", "scale": {"domain": ["Wind Speed", "Wind Gust"], "range": ["#cc0000", "#008000"]}, "legend": {"orient": "none", "legendX": 28, "legendY": -15, "direction": "horizontal", "title": null, "symbolSize": 0, "symbolStrokeWidth": 0, "symbolOpacity": 0, "labelOffset": 0, "columnPadding": 2, "labelColor": {"expr": "datum.value == 'Wind Gust' ? '#008000' : '#cc0000'"}}}
          }
        },
        {
          "data": {"name": "wd"},
          "mark": {"type": "line", "opacity": 0},
          "encoding": {
            "x": {"field": "h", "type": "quantitative", "axis": {"values": [1,2,3,4,5,6,7,8,9,10,11,12,13,14,15,16,17,18,19,20,21,22,23], "labelExpr": "datum.value == 12 ? 'noon' : '' + (datum.value > 12 ? datum.value - 12 : datum.value)", "title": null, "grid": false, "tickSize": -4, "labelPadding": 9, "labelFlush": false, "labelOverlap": false, "labelBound": false}},
            "y": {"field": "v", "type": "quantitative", "axis": {"orient": "right", "values": [0, 4.971, 9.942, 14.913, 19.884, 24.855], "labelExpr": "'' + round(datum.value * 1.609344)", "grid": false, "tickSize": -5, "labelPadding": 10, "labelOverlap": false, "title": "km/h", "titleAngle": 0, "titleAlign": "left", "titleBaseline": "middle", "titleX": 3, "titleY": -16}}
          }
        }
      ]
    }
  ]
}
